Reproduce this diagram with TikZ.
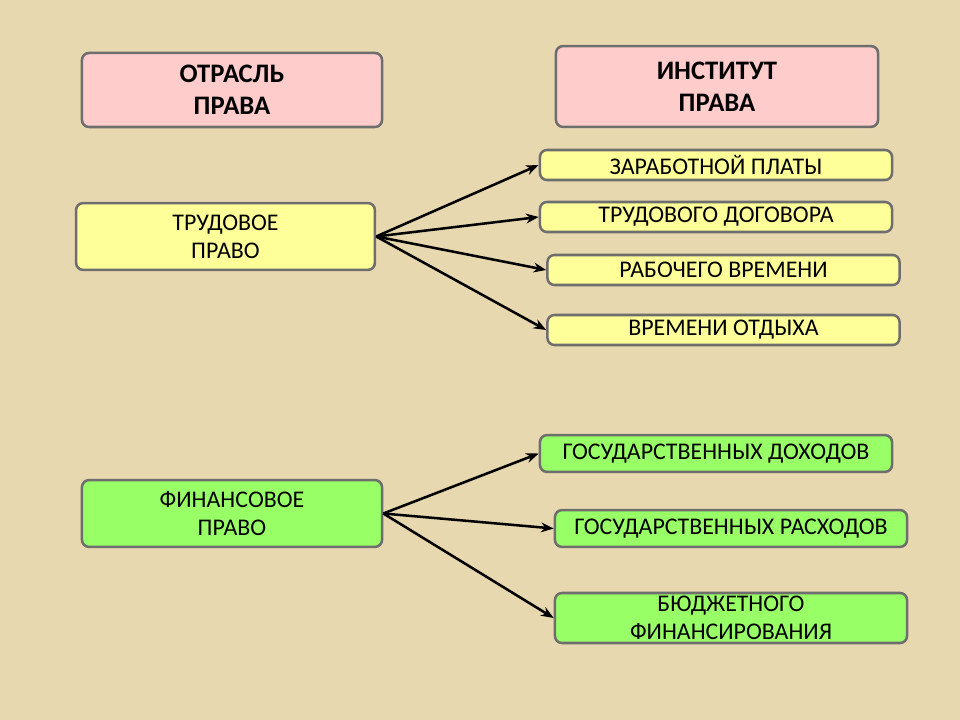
\documentclass[tikz,border=0pt]{standalone}
\usepackage{fontspec}
\setmainfont{Carlito}
\usetikzlibrary{arrows.meta}

\definecolor{parchment}{RGB}{232,216,176}
\definecolor{pinkbox}{RGB}{255,204,204}
\definecolor{yellowbox}{RGB}{255,255,153}
\definecolor{greenbox}{RGB}{153,255,102}
\definecolor{boxline}{RGB}{110,110,110}

\tikzset{
    box/.style={draw=boxline, line width=1.8pt, rounded corners=5pt,
        align=center, inner sep=0pt, font=\fontsize{17}{20}\selectfont},
    headbox/.style={box, fill=pinkbox, font=\fontsize{19}{23}\selectfont\bfseries},
    branchbox/.style={box, fill=yellowbox},
    financebox/.style={box, fill=greenbox},
    link/.style={-{Stealth[length=9pt,width=7pt]}, line width=1.8pt},
}

\begin{document}
\begin{tikzpicture}[x=0.025cm, y=-0.025cm]
    \fill[parchment] (0, 0) rectangle (960, 720);

    % headers
    \node[headbox, minimum width=7.5cm, minimum height=1.85cm] (otr) at (232, 90) {ОТРАСЛЬ\\ПРАВА};
    \node[headbox, minimum width=8.05cm, minimum height=2.02cm] (inst) at (717, 86.5) {ИНСТИТУТ\\ПРАВА};

    % trudovoe
    \node[branchbox, minimum width=7.47cm, minimum height=1.67cm] (trud) at (225.5, 236.5) {ТРУДОВОЕ\\ПРАВО};
    \node[branchbox, minimum width=8.8cm, minimum height=0.75cm] (zarp) at (716, 165) {ЗАРАБОТНОЙ ПЛАТЫ};
    \node[branchbox, minimum width=8.8cm, minimum height=0.75cm] (dog) at (716, 217) {ТРУДОВОГО ДОГОВОРА};
    \node[branchbox, minimum width=8.8cm, minimum height=0.75cm] (rab) at (723.5, 270) {РАБОЧЕГО ВРЕМЕНИ};
    \node[branchbox, minimum width=8.8cm, minimum height=0.75cm] (otd) at (723.5, 330) {ВРЕМЕНИ ОТДЫХА};

    \draw[link] (trud.east) -- (zarp.west);
    \draw[link] (trud.east) -- (dog.west);
    \draw[link] (trud.east) -- (rab.west);
    \draw[link] (trud.east) -- (otd.west);

    % finansovoe
    \node[financebox, minimum width=7.5cm, minimum height=1.67cm] (fin) at (232, 513.5) {ФИНАНСОВОЕ\\ПРАВО};
    \node[financebox, minimum width=8.8cm, minimum height=0.92cm] (doh) at (716, 453.5) {ГОСУДАРСТВЕННЫХ ДОХОДОВ};
    \node[financebox, minimum width=8.8cm, minimum height=0.92cm] (ras) at (731, 528.5) {ГОСУДАРСТВЕННЫХ РАСХОДОВ};
    \node[financebox, minimum width=8.8cm, minimum height=1.25cm] (bud) at (731, 618) {БЮДЖЕТНОГО\\ФИНАНСИРОВАНИЯ};

    \draw[link] (fin.east) -- (doh.west);
    \draw[link] (fin.east) -- (ras.west);
    \draw[link] (fin.east) -- (bud.west);
\end{tikzpicture}
\end{document}
